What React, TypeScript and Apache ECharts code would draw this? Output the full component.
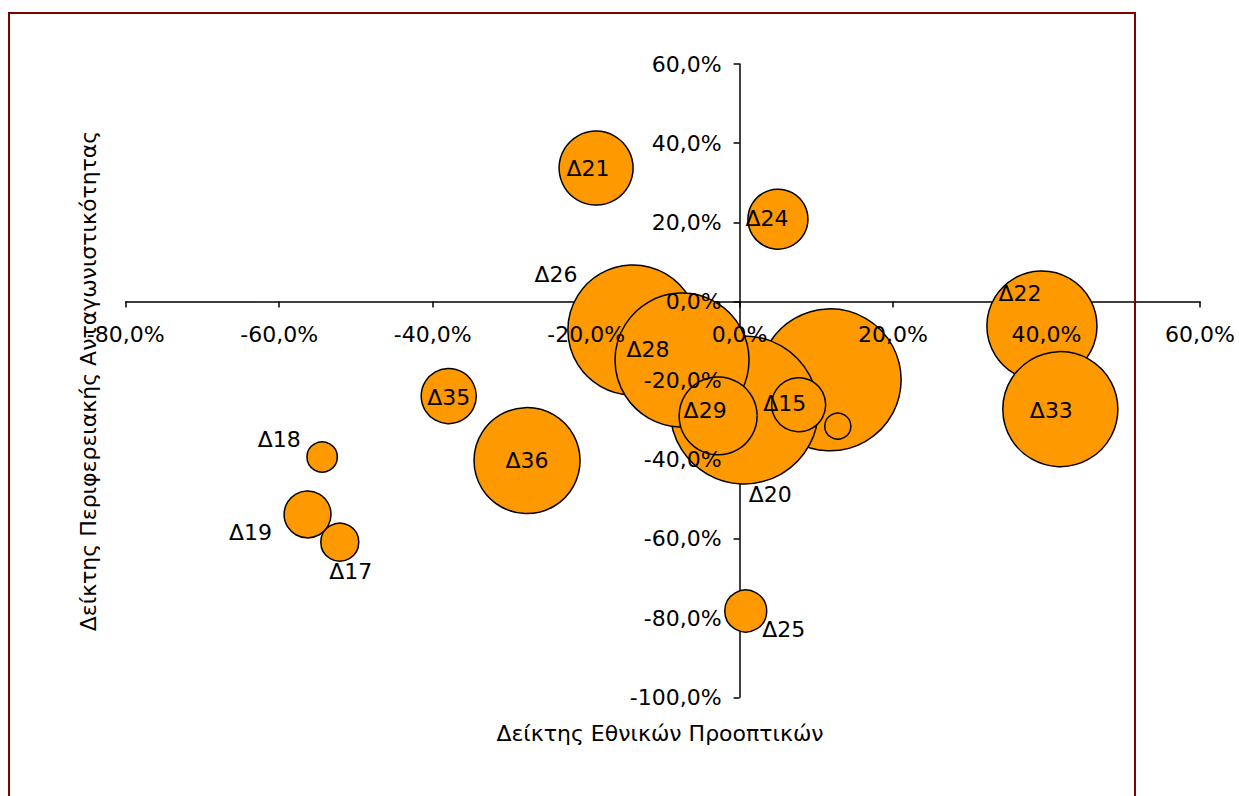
import React, { useEffect, useRef } from "react";
import * as echarts from "echarts";

const names = ["Δ19", "Δ17", "Δ18", "Δ35", "Δ36", "Δ21", "Δ24", "Δ26", "", "Δ20", "Δ28", "Δ29", "Δ15", "", "Δ22", "Δ33", "Δ25"];
const xValues = [-56.3, -52.1, -54.4, -37.9, -27.7, -18.7, 5.0, -13.9, 11.8, 0.6, -7.5, -2.8, 7.7, 12.8, 39.4, 41.8, 0.8];
const yValues = [-53.8, -60.8, -39.3, -23.9, -40.2, 33.7, 20.8, -7.2, -19.8, -27.4, -14.8, -28.9, -26.1, -31.5, -6.2, -27.2, -78.2];
const sizes = [5.5, 3.6, 2.3, 7.6, 28.1, 13.7, 9.0, 42.3, 50.4, 54.8, 44.9, 15.2, 7.3, 1.7, 30.3, 33.1, 4.4];
const labelOffsets: number[][] = [
  [-57, 18], [11, 29], [-43, -18], [0, 1], [0, 0], [-8, 0], [-11, -1], [-77, -55], [0, 0],
  [26, 85], [-34, -11], [-13, -5], [-14, -1], [0, 0], [-22, -33], [-9, 1], [38, 18],
];

const xMin = -80, xMax = 60, xStep = 20;
const yMin = -100, yMax = 60, yStep = 20;

const xTitle = "Δείκτης Εθνικών Προοπτικών";
const yTitle = "Δείκτης Περιφερειακής Ανταγωνιστικότητας";

const FONT = "DejaVu Sans";
const FS = 22;
const fmt = (v: number) => v.toFixed(1).replace(".", ",").replace("-0,0", "0,0") + "%";

const gridRect = { left: 125.7, right: 39, top: 64, bottom: 98.7 };

export default function App() {
  const ref = useRef<HTMLDivElement>(null);
  useEffect(() => {
    if (!ref.current) return;
    const chart = echarts.init(ref.current, null, { renderer: "svg" });
    const data = names.map((n, i) => ({
      name: n,
      value: [xValues[i], yValues[i], sizes[i]],
      label: { offset: labelOffsets[i] },
    }));
    const axisCommon = {
      type: "value" as const,
      splitLine: { show: false },
    };
    const labelStyle = { color: "#000", fontFamily: FONT, fontSize: FS };
    chart.setOption({
      animation: false,
      backgroundColor: "#ffffff",
      grid: [
        { ...gridRect, outerBoundsMode: "none", containLabel: false },
        { ...gridRect, outerBoundsMode: "none", containLabel: false },
      ],
      xAxis: [
        {
          ...axisCommon,
          gridIndex: 0,
          min: xMin,
          max: xMax,
          interval: xStep,
          axisLine: { show: true, onZero: true, lineStyle: { color: "#000", width: 1.5 } },
          axisTick: { show: true, inside: false, length: 6, lineStyle: { color: "#000", width: 1.5 } },
          axisLabel: { show: false },
        },
        {
          ...axisCommon,
          gridIndex: 1,
          z: 10,
          position: "bottom",
          offset: 0,
          min: xMin,
          max: xMax,
          interval: xStep,
          axisLine: { show: false, onZero: false },
          axisTick: { show: false },
          axisLabel: { show: true, margin: 22, formatter: fmt, ...labelStyle },
        },
      ],
      yAxis: [
        {
          ...axisCommon,
          gridIndex: 0,
          min: yMin,
          max: yMax,
          interval: yStep,
          axisLine: { show: true, onZero: true, lineStyle: { color: "#000", width: 1.5 } },
          axisTick: { show: true, inside: false, length: 6, lineStyle: { color: "#000", width: 1.5 } },
          axisLabel: { show: false },
        },
        {
          ...axisCommon,
          gridIndex: 1,
          z: 10,
          position: "left",
          offset: 0,
          min: yMin,
          max: yMax,
          interval: yStep,
          axisLine: { show: false, onZero: false },
          axisTick: { show: false },
          axisLabel: { show: true, margin: 18, formatter: fmt, ...labelStyle },
        },
      ],
      series: [
        {
          type: "scatter",
          xAxisIndex: 0,
          yAxisIndex: 0,
          data,
          symbol: "circle",
          symbolSize: (val: number[]) => 20 * Math.sqrt(val[2]),
          itemStyle: { color: "#FF9900", borderColor: "#000", borderWidth: 1.5, opacity: 1 },
          label: {
            show: true,
            position: "inside",
            formatter: (p: any) => p.name,
            ...labelStyle,
          },
          emphasis: { disabled: true },
        },
      ],
      graphic: [
        {
          type: "text",
          x: 660,
          y: 733,
          style: { text: xTitle, fill: "#000", font: `${FS}px "${FONT}"`, align: "center", verticalAlign: "middle" },
        },
        {
          type: "text",
          x: 88,
          y: 381,
          rotation: Math.PI / 2,
          style: { text: yTitle, fill: "#000", font: `${FS}px "${FONT}"`, align: "center", verticalAlign: "middle" },
        },
        {
          type: "rect",
          z: 100,
          shape: { x: 9, y: 13, width: 1126, height: 800 },
          style: { fill: "none", stroke: "#800000", lineWidth: 2 },
        },
      ],
    });
    // Place the overlay label axes on the zero lines of the main grid.
    const zero = chart.convertToPixel({ gridIndex: 0 }, [0, 0]) as number[];
    const corner = chart.convertToPixel({ gridIndex: 0 }, [xMin, yMin]) as number[];
    if (zero && corner) {
      chart.setOption({
        xAxis: [{}, { offset: -(corner[1] - zero[1]) }],
        yAxis: [{}, { offset: -(zero[0] - corner[0]) }],
      });
    }
    return () => chart.dispose();
  }, []);
  return (
    <div
      ref={ref}
      style={{ position: "absolute", left: 0, top: 0, width: 1239, height: 796, background: "#fff" }}
    />
  );
}
